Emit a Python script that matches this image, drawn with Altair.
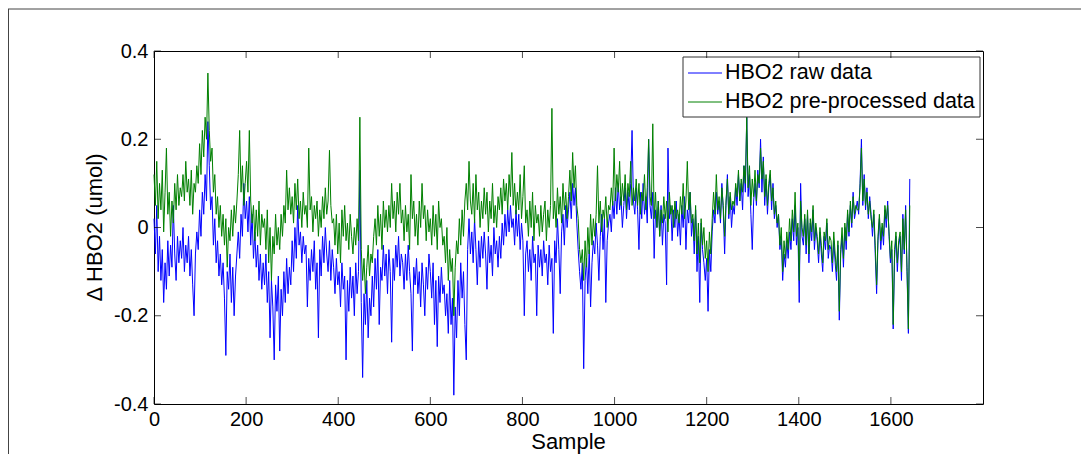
import altair as alt
import pandas as pd

# ---- data (one value every 3 samples) ----
step = 3
raw_vals = [
    0.02, -0.06, 0.05, -0.10, -0.02, -0.12, -0.05, -0.17, -0.08, -0.14,
    -0.03, -0.11, -0.04, -0.09, 0.05, -0.06, -0.12, -0.02, -0.08, -0.03,
    -0.07, 0.00, -0.10, -0.04, -0.08, -0.02, -0.11, -0.05, -0.13, -0.20,
    -0.06, -0.01, -0.05, 0.04, -0.02, 0.08, 0.03, 0.12, 0.06, 0.24,
    0.14, 0.04, 0.07, -0.04, 0.02, -0.08, -0.03, -0.11, -0.06, -0.13,
    -0.08, -0.16, -0.29, -0.10, -0.14, -0.06, -0.17, -0.09, -0.20, -0.11,
    -0.06, -0.01, -0.07, 0.03, -0.02, 0.10, 0.02, 0.06, -0.01, 0.07,
    -0.04, 0.03, -0.07, -0.01, -0.09, -0.04, -0.12, -0.06, -0.14, -0.08,
    -0.13, -0.06, -0.17, -0.10, -0.25, -0.12, -0.18, -0.30, -0.13, -0.19,
    -0.11, -0.28, -0.14, -0.20, -0.10, -0.17, -0.07, -0.15, -0.09, -0.13,
    -0.03, -0.10, 0.00, -0.07, 0.05, -0.04, -0.01, -0.08, -0.02, -0.06,
    -0.04, -0.18, -0.07, -0.12, -0.05, -0.10, -0.03, -0.14, -0.08, -0.25,
    -0.05, -0.11, -0.02, -0.08, 0.00, -0.06, -0.10, -0.03, -0.12, -0.05,
    -0.09, -0.15, -0.07, -0.13, -0.10, -0.18, -0.08, -0.14, -0.11, -0.30,
    -0.12, -0.19, -0.09, -0.16, -0.11, -0.20, -0.08, -0.15, -0.10, 0.13,
    -0.17, -0.34, -0.15, -0.22, -0.12, -0.25, -0.16, -0.20, -0.11, -0.18,
    -0.07, -0.14, -0.05, -0.22, -0.09, -0.12, -0.04, -0.11, -0.06, -0.15,
    -0.05, -0.10, -0.26, -0.07, -0.12, -0.04, -0.09, -0.02, -0.11, -0.06,
    -0.08, -0.14, -0.06, -0.12, -0.04, -0.10, -0.15, -0.28, -0.09, -0.13,
    -0.07, -0.15, -0.10, -0.18, -0.08, -0.13, -0.20, -0.09, -0.14, -0.06,
    -0.10, -0.16, -0.08, -0.22, -0.12, -0.27, -0.11, -0.17, -0.09, -0.15,
    -0.13, -0.20, -0.15, -0.24, -0.12, -0.22, -0.16, -0.38, -0.18, -0.25,
    -0.12, -0.20, -0.08, -0.16, -0.10, -0.22, -0.30, -0.05, 0.02, -0.06,
    -0.01, -0.08, 0.02, -0.05, -0.13, -0.03, -0.09, -0.02, -0.07, -0.01,
    -0.06, -0.14, -0.02, -0.08, -0.04, -0.11, 0.00, -0.06, -0.03, -0.09,
    -0.02, -0.07, 0.01, -0.04, 0.03, -0.02, 0.04, -0.01, 0.05, 0.00,
    0.02, -0.04, 0.04, -0.02, 0.03, -0.05, 0.01, -0.03, -0.20, -0.06,
    -0.03, -0.10, -0.05, -0.12, -0.02, -0.08, -0.06, -0.20, -0.04, -0.09,
    -0.05, -0.11, -0.03, -0.08, -0.06, -0.13, -0.04, -0.10, -0.07, -0.24,
    -0.03, -0.08, 0.02, -0.05, -0.15, -0.01, 0.03, -0.04, 0.05, 0.00,
    0.04, 0.08, 0.02, 0.10, 0.05, 0.09, 0.01, -0.05, -0.10, -0.14,
    -0.08, -0.32, -0.12, -0.07, -0.15, -0.05, -0.18, -0.08, -0.03, -0.06,
    0.01, -0.04, -0.12, -0.02, 0.03, -0.05, 0.02, -0.17, -0.03, 0.01,
    0.03, -0.01, 0.06, 0.02, 0.09, 0.03, 0.10, 0.04, 0.07, 0.00,
    0.05, 0.09, 0.02, 0.08, 0.04, 0.10, 0.22, 0.06, 0.03, 0.09,
    0.04, -0.05, 0.08, 0.02, 0.10, 0.03, 0.07, 0.01, 0.20, 0.05,
    0.02, 0.08, -0.07, 0.04, 0.00, 0.06, -0.02, 0.05, -0.04, 0.03,
    0.01, -0.13, 0.18, 0.02, 0.05, -0.03, 0.04, 0.00, 0.06, -0.02,
    0.03, -0.04, 0.05, 0.00, 0.07, -0.05, 0.04, 0.01, 0.08, -0.02,
    0.02, -0.06, 0.04, -0.10, -0.02, -0.17, 0.01, -0.05, -0.08, -0.12,
    -0.07, -0.19, -0.05, -0.10, -0.01, 0.04, 0.01, 0.08, 0.03, 0.06,
    0.01, 0.10, 0.04, -0.06, 0.05, 0.12, 0.02, 0.07, 0.00, 0.05,
    0.03, 0.09, 0.05, 0.12, 0.06, 0.10, 0.04, 0.14, 0.08, 0.25,
    0.07, 0.12, 0.03, -0.05, 0.06, 0.10, 0.05, 0.13, 0.09, 0.20,
    0.08, 0.16, 0.05, 0.11, 0.03, 0.09, 0.12, 0.04, 0.10, 0.02,
    0.05, 0.00, 0.03, -0.05, -0.02, -0.12, -0.06, -0.09, -0.03, -0.07,
    -0.01, -0.05, 0.02, -0.03, 0.05, -0.04, 0.00, -0.17, 0.10, -0.02,
    -0.04, 0.02, -0.06, 0.03, -0.08, 0.01, -0.03, 0.04, -0.05, 0.00,
    -0.03, -0.08, -0.01, -0.06, -0.10, -0.02, -0.05, 0.01, -0.07, -0.04,
    -0.05, -0.10, -0.03, -0.08, -0.12, -0.04, -0.21, -0.06, -0.02, -0.09,
    0.00, -0.05, 0.03, -0.02, 0.05, 0.00, 0.08, 0.02, 0.04, 0.06,
    0.03, 0.10, 0.20, 0.05, 0.12, 0.04, 0.09, 0.02, 0.07, 0.03,
    -0.02, 0.03, -0.06, -0.15, -0.03, 0.02, -0.05, 0.00, -0.04, 0.04,
    0.00, 0.06, -0.02, -0.08, -0.05, -0.23, -0.07, -0.02, -0.10, -0.04,
    -0.02, -0.12, 0.03, -0.06, 0.05, -0.10, -0.24, 0.11,
]
pre_vals = [
    0.12, 0.05, 0.15, 0.02, 0.10, 0.04, 0.13, -0.01, 0.08, 0.18,
    0.03, 0.08, -0.02, 0.06, 0.01, 0.10, 0.04, 0.12, 0.05, 0.09,
    0.07, 0.12, 0.06, 0.15, 0.08, 0.11, 0.05, 0.13, 0.03, 0.10,
    0.08, 0.14, 0.10, 0.19, 0.12, 0.22, 0.16, 0.25, 0.20, 0.35,
    0.22, 0.15, 0.18, 0.08, 0.12, 0.03, 0.07, 0.00, 0.05, -0.02,
    0.03, -0.04, 0.02, -0.09, 0.00, -0.03, 0.04, -0.02, 0.05, 0.01,
    0.06, 0.12, 0.22, 0.08, 0.14, 0.05, 0.10, 0.15, 0.08, 0.22,
    0.06, 0.01, 0.05, -0.03, 0.04, -0.02, 0.06, -0.04, 0.03, 0.00,
    0.02, -0.05, 0.04, -0.08, 0.00, -0.12, -0.02, -0.06, 0.03, -0.04,
    0.00, -0.05, 0.03, -0.02, 0.05, 0.01, 0.13, 0.04, 0.09, 0.03,
    0.07, 0.01, 0.10, 0.04, 0.11, 0.02, 0.06, 0.00, 0.08, 0.03,
    0.05, 0.00, 0.18, 0.04, 0.07, -0.01, 0.05, 0.02, 0.06, -0.02,
    0.04, 0.00, 0.07, 0.02, 0.09, 0.03, 0.06, 0.175, 0.05, 0.01,
    0.02, -0.04, 0.03, -0.06, 0.01, -0.08, 0.04, -0.02, 0.05, -0.03,
    0.01, -0.05, 0.03, -0.02, -0.06, 0.00, -0.04, 0.02, -0.03, 0.25,
    -0.05, -0.12, -0.07, -0.15, -0.09, -0.04, -0.11, -0.06, -0.08, -0.02,
    0.02, -0.04, 0.05, -0.02, 0.03, -0.05, 0.06, 0.00, 0.04, -0.01,
    0.05, 0.00, 0.10, 0.02, 0.06, -0.01, 0.08, 0.03, 0.10, 0.01,
    0.04, -0.03, 0.05, -0.01, 0.03, -0.05, 0.12, 0.02, 0.06, -0.02,
    0.03, -0.04, 0.06, 0.00, 0.10, 0.02, 0.05, -0.03, 0.04, -0.01,
    0.02, -0.04, 0.05, -0.02, 0.03, -0.05, 0.06, 0.00, 0.02, -0.04,
    -0.02, -0.08, 0.00, -0.12, -0.05, -0.10, -0.07, -0.20, -0.09, -0.03,
    -0.06, 0.02, -0.04, 0.04, -0.02, 0.06, 0.10, 0.04, 0.15, 0.06,
    0.03, 0.10, 0.01, 0.12, 0.04, 0.08, 0.00, 0.06, 0.02, 0.09,
    0.03, 0.08, -0.01, 0.06, 0.02, 0.10, 0.01, 0.05, 0.00, 0.07,
    0.04, 0.09, 0.03, 0.11, 0.06, 0.10, 0.04, 0.12, 0.07, 0.17,
    0.05, 0.10, 0.03, 0.08, 0.04, 0.12, 0.02, 0.07, 0.14, 0.01,
    0.04, -0.02, 0.06, 0.00, 0.08, -0.03, 0.05, 0.01, 0.03, -0.02,
    0.05, -0.01, 0.03, 0.06, -0.03, 0.04, 0.00, 0.05, 0.27, 0.02,
    0.06, 0.00, 0.09, 0.03, 0.07, 0.01, 0.10, 0.04, 0.08, 0.02,
    0.07, 0.13, 0.06, 0.17, 0.09, 0.14, 0.05, 0.02, -0.05, -0.08,
    -0.05, -0.12, -0.03, -0.09, 0.00, -0.06, 0.03, -0.04, 0.02, -0.02,
    0.03, 0.14, 0.01, 0.06, -0.01, 0.04, 0.02, 0.07, 0.00, 0.05,
    0.04, 0.09, 0.05, 0.18, 0.06, 0.12, 0.08, 0.15, 0.05, 0.10,
    0.06, 0.12, 0.04, 0.10, 0.07, 0.15, 0.05, 0.09, 0.06, 0.11,
    0.05, 0.10, 0.03, 0.08, 0.06, 0.12, 0.04, 0.09, 0.20, 0.07,
    0.05, 0.235, 0.02, 0.08, 0.00, 0.06, -0.02, 0.04, 0.01, 0.07,
    0.02, 0.06, -0.01, 0.08, 0.03, 0.05, 0.00, 0.06, 0.02, 0.04,
    0.01, 0.07, 0.03, 0.10, 0.02, 0.06, 0.15, 0.04, 0.08, 0.01,
    0.03, -0.03, 0.05, -0.06, 0.01, -0.08, 0.02, -0.04, 0.00, -0.07,
    -0.03, -0.10, -0.01, -0.06, 0.02, 0.08, 0.03, 0.12, 0.04, 0.07,
    0.02, 0.09, 0.05, -0.02, 0.06, 0.11, 0.03, 0.08, 0.04, 0.06,
    0.05, 0.10, 0.07, 0.13, 0.06, 0.11, 0.08, 0.14, 0.10, 0.25,
    0.09, 0.14, 0.05, 0.11, 0.07, 0.13, 0.06, 0.12, 0.10, 0.18,
    0.11, 0.15, 0.07, 0.12, 0.05, 0.10, 0.13, 0.06, 0.09, 0.03,
    0.06, 0.01, 0.03, -0.04, 0.00, -0.10, -0.03, -0.07, -0.01, -0.05,
    0.02, -0.03, 0.04, -0.01, 0.08, -0.02, 0.01, -0.12, 0.06, 0.00,
    -0.02, 0.03, -0.04, 0.04, -0.06, 0.02, -0.01, 0.05, -0.03, 0.01,
    -0.02, -0.06, 0.00, -0.04, -0.08, -0.01, -0.03, 0.02, -0.05, -0.02,
    -0.03, -0.08, -0.01, -0.06, -0.10, -0.03, -0.19, -0.05, 0.00, -0.07,
    0.01, -0.03, 0.04, -0.01, 0.06, 0.01, 0.07, 0.03, 0.05, 0.04,
    0.04, 0.09, 0.18, 0.06, 0.11, 0.05, 0.08, 0.03, 0.06, 0.02,
    0.00, 0.04, -0.04, -0.13, -0.02, 0.03, -0.03, 0.01, -0.02, 0.05,
    0.02, 0.05, -0.01, -0.07, -0.03, -0.22, -0.05, -0.01, -0.08, -0.03,
    -0.01, -0.10, 0.02, -0.05, 0.04, -0.09, -0.23, 0.05,
]
x_ticks = [0, 200, 400, 600, 800, 1000, 1200, 1400, 1600]
y_ticks = [-0.4, -0.2, 0, 0.2, 0.4]
series_names = ["HBO2 raw data", "HBO2 pre-processed data"]
series_colors = ["#0000ff", "#008000"]
x_title = "Sample"
y_title = "\u0394 HBO2 (umol)"

FONT = "Liberation Sans"
W, H = 829, 353

raw_df = pd.DataFrame({"sample": [i * step for i in range(len(raw_vals))], "value": raw_vals})
pre_df = pd.DataFrame({"sample": [i * step for i in range(len(pre_vals))], "value": pre_vals})
xt_df = pd.DataFrame({"sample": x_ticks})
yt_df = pd.DataFrame({"value": y_ticks})
one = pd.DataFrame({"k": [0]})

xs = alt.Scale(domain=[0, 1800], nice=False, zero=False)
ys = alt.Scale(domain=[-0.4, 0.4], nice=False, zero=False)

x_axis = alt.Axis(
    values=x_ticks, tickSize=0, domain=False, grid=False, format="d", labelFlush=False,
    labelFont=FONT, labelFontSize=20, labelColor="black", labelPadding=5,
    title=x_title, titleFont=FONT, titleFontSize=22, titleFontWeight="normal",
    titleColor="black", titleX=414, titleY=44, titleBaseline="alphabetic",
)
y_axis = alt.Axis(
    values=y_ticks, tickSize=0, domain=False, grid=False, labelFlush=False,
    labelExpr="datum.value < -0.001 ? '-' + format(-datum.value, '.1f') : (abs(datum.value) < 0.001 ? '0' : format(datum.value, '.1f'))",
    labelFont=FONT, labelFontSize=20, labelColor="black", labelPadding=6,
    title=y_title, titleFont=FONT, titleFontSize=22, titleFontWeight="normal",
    titleColor="black", titleX=-53, titleY=176, titleAngle=270,
    titleBaseline="alphabetic", titleAlign="center",
)

X = alt.X("sample:Q", scale=xs, axis=x_axis)
Y = alt.Y("value:Q", scale=ys, axis=y_axis)

raw_line = alt.Chart(raw_df).mark_line(color=series_colors[0], strokeWidth=1).encode(x=X, y=Y)
pre_line = alt.Chart(pre_df).mark_line(color=series_colors[1], strokeWidth=1).encode(x=X, y=Y)

tick_len = 7
bot_ticks = alt.Chart(xt_df).mark_tick(orient="vertical", color="black", size=tick_len, thickness=1).encode(
    x=X, y=alt.value(H - tick_len / 2))
top_ticks = alt.Chart(xt_df).mark_tick(orient="vertical", color="black", size=tick_len, thickness=1).encode(
    x=X, y=alt.value(tick_len / 2))
left_ticks = alt.Chart(yt_df).mark_tick(orient="horizontal", color="black", size=tick_len, thickness=1).encode(
    y=Y, x=alt.value(tick_len / 2))
right_ticks = alt.Chart(yt_df).mark_tick(orient="horizontal", color="black", size=tick_len, thickness=1).encode(
    y=Y, x=alt.value(W - tick_len / 2))

# legend (MATLAB style box inside the axes)
leg_box = alt.Chart(one).mark_rect(fill="white", stroke="#333333", strokeWidth=1).encode(
    x=alt.value(529), x2=alt.value(826), y=alt.value(6), y2=alt.value(66))
leg_layers = []
for i, (name, col) in enumerate(zip(series_names, series_colors)):
    ly = 22 + 29 * i
    dfn = pd.DataFrame({"label": [name]})
    leg_layers.append(alt.Chart(dfn).mark_rule(color=col, strokeWidth=1).encode(
        x=alt.value(534), x2=alt.value(568), y=alt.value(ly)))
    leg_layers.append(alt.Chart(dfn).mark_text(
        align="left", baseline="middle", font=FONT, fontSize=21.5, color="black").encode(
        x=alt.value(571), y=alt.value(ly), text="label:N"))

# figure border (top and left edges visible in the reference)
fig_top = alt.Chart(one).mark_rule(color="#444444", strokeWidth=1).encode(
    x=alt.value(-146), x2=alt.value(W + 98), y=alt.value(-42))
fig_left = alt.Chart(one).mark_rule(color="#444444", strokeWidth=1).encode(
    x=alt.value(-145.5), y=alt.value(-42), y2=alt.value(H + 60))

chart = alt.layer(
    raw_line, pre_line, leg_box, *leg_layers,
    bot_ticks, top_ticks, left_ticks, right_ticks, fig_top, fig_left,
).properties(
    width=W, height=H,
    background="white",
    autosize=alt.AutoSizeParams(type="none"),
    padding={"left": 146, "top": 43, "right": 98, "bottom": 50},
).configure_view(
    stroke="black", strokeWidth=1
)

chart.save("out.html", embed_options={"renderer": "svg", "actions": False})
